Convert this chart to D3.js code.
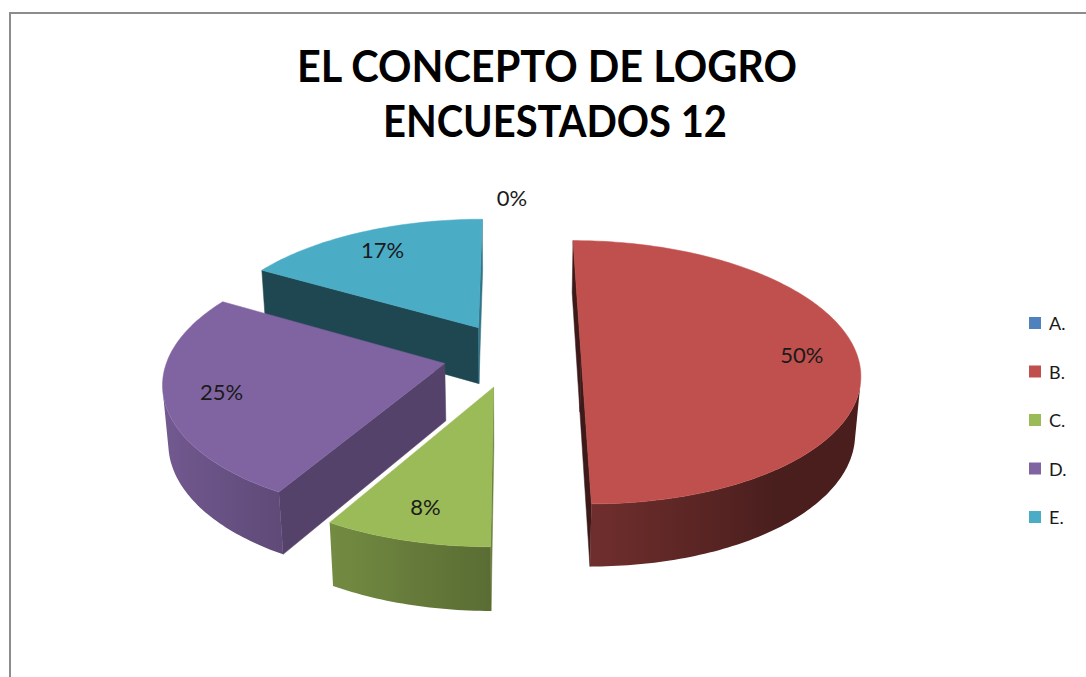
<!DOCTYPE html>
<html>
<head>
<meta charset="utf-8">
<script src="https://cdn.jsdelivr.net/npm/d3@7"></script>
<style>
  body { margin: 0; background: #fff; }
  svg { display: block; font-family: Lato, "Open Sans", sans-serif; }
</style>
</head>
<body>
<div id="chart"></div>
<script>
(function() {
  var categories = ['A.', 'B.', 'C.', 'D.', 'E.']
  var counts = [0, 6, 1, 3, 2]
  var colors = ['#4F81BD', '#C0504D', '#9BBB59', '#8064A2', '#4BACC6']
  var titleLines = ['EL CONCEPTO DE LOGRO', 'ENCUESTADOS 12']

  var width = 1086, height = 677
  var total = d3.sum(counts)
  var pct = d3.format('.0%')

  var svg = d3.select('#chart')
    .append('svg')
    .attr('width', width)
    .attr('height', height)
  var defs = svg.append('defs')

  // chart frame, only top and left edges fall inside the window
  svg.append('rect')
    .attr('x', 10).attr('y', 13)
    .attr('width', 1100).attr('height', 700)
    .attr('fill', '#fff')
    .attr('stroke', '#8c8c8c')
    .attr('stroke-width', 2)

  // title
  svg.append('g').selectAll('text')
    .data(titleLines)
    .join('text')
    .attr('x', (d, i) => i === 0 ? 547 : 555)
    .attr('y', (d, i) => 82 + i * 55)
    .attr('text-anchor', 'middle')
    .attr('font-size', 43)
    .attr('font-weight', 'bold')
    .attr('fill', '#000')
    .attr('textLength', (d, i) => i === 0 ? 500 : 344)
    .attr('lengthAdjust', 'spacingAndGlyphs')
    .text(d => d)

  // simple perspective camera looking down on the pie (radius 1, y up, z toward viewer)
  var tilt = Math.asin(0.48)
  var sn = Math.sin(tilt), cs = Math.cos(tilt)
  var cam = { cx: 512, cy: 412, fx: 1850, fy: 1910, dist: 6.81 }
  var thick = 0.228
  var explode = 0.25
  var camPos = [0, cam.dist * sn, cam.dist * cs]

  function project(x, y, z) {
    var depth = cam.dist - y * sn - z * cs
    return [cam.cx + cam.fx * x / depth, cam.cy - cam.fy * (y * cs - z * sn) / depth]
  }
  function facing(n, p) {
    return n[0] * (camPos[0] - p[0]) + n[1] * (camPos[1] - p[1]) + n[2] * (camPos[2] - p[2]) > 0
  }
  function shade(color, f) {
    var c = d3.rgb(color)
    return d3.rgb(c.r * f, c.g * f, c.b * f).formatHex()
  }

  var pie = d3.pie().sort(null).value(d => d)
  var arcs = pie(counts).map((a, i) => {
    var mid = (a.startAngle + a.endAngle) / 2
    return Object.assign(a, {
      i: i,
      mid: mid,
      ox: explode * Math.sin(mid),
      oz: -explode * Math.cos(mid)
    })
  })

  function pt(a, r, ang, y) {
    return [a.ox + r * Math.sin(ang), y, a.oz - r * Math.cos(ang)]
  }
  function proj(p) { return project(p[0], p[1], p[2]) }
  function toPath(pts3) {
    return 'M' + pts3.map(p => proj(p).join(',')).join('L') + 'Z'
  }

  // far slices first
  var drawn = arcs.filter(a => a.value > 0)
    .sort((a, b) => {
      var za = a.oz - 0.5 * Math.cos(a.mid), zb = b.oz - 0.5 * Math.cos(b.mid)
      return za - zb
    })

  var pieG = svg.append('g')

  drawn.forEach(a => {
    var g = pieG.append('g').attr('class', 'slice')
    var col = colors[a.i]
    var faces = []
    var s0 = a.startAngle, s1 = a.endAngle
    var steps = Math.ceil((s1 - s0) / (Math.PI / 180))

    // radial walls
    var walls = [
      { ang: s0, n: [-Math.cos(s0), 0, -Math.sin(s0)], f: 0.5 + 0.18 * (-Math.cos(s0)) },
      { ang: s1, n: [Math.cos(s1), 0, Math.sin(s1)], f: 0.5 + 0.18 * Math.cos(s1) }
    ]
    walls.forEach(w => {
      var p = pt(a, 0.5, w.ang, thick / 2)
      if (!facing(w.n, p)) return
      faces.push({
        d: toPath([pt(a, 0, 0, thick), pt(a, 1, w.ang, thick), pt(a, 1, w.ang, 0), pt(a, 0, 0, 0)]),
        fill: shade(col, w.f)
      })
    })

    // outer curved side: the visible run of angles as one shape with a horizontal gradient
    var vis = []
    for (var k = 0; k <= steps; k++) {
      var t = s0 + (s1 - s0) * k / steps
      var n = [Math.sin(t), 0, -Math.cos(t)]
      if (facing(n, pt(a, 1, t, thick / 2))) vis.push(t)
    }
    if (vis.length > 1) {
      var upper = vis.map(t => pt(a, 1, t, thick))
      var lower = vis.slice().reverse().map(t => pt(a, 1, t, 0))
      var xs = vis.map(t => proj(pt(a, 1, t, thick))[0])
      var x0 = d3.min(xs), x1 = d3.max(xs)
      var gid = 'side-' + a.i
      defs.append('linearGradient')
        .attr('id', gid)
        .attr('gradientUnits', 'userSpaceOnUse')
        .attr('x1', x0).attr('x2', x1).attr('y1', 0).attr('y2', 0)
        .selectAll('stop')
        .data(vis.map((t, j) => ({ t: t, x: xs[j] })).sort((p, q) => p.x - q.x))
        .join('stop')
        .attr('offset', d => x1 > x0 ? (d.x - x0) / (x1 - x0) : 0)
        .attr('stop-color', d => shade(col, Math.max(0.38, Math.min(1, 0.58 - 0.33 * Math.sin(d.t)))))
      faces.push({ d: toPath(upper.concat(lower)), fill: 'url(#' + gid + ')', stroke: 'none' })
    }

    // top face
    var top = [pt(a, 0, 0, thick)]
    for (var j = 0; j <= steps; j++) {
      top.push(pt(a, 1, s0 + (s1 - s0) * j / steps, thick))
    }
    faces.push({ d: toPath(top), fill: col })

    g.selectAll('path')
      .data(faces)
      .join('path')
      .attr('d', d => d.d)
      .attr('fill', d => d.fill)
      .attr('stroke', d => d.stroke || d.fill)
      .attr('stroke-width', 0.5)
      .attr('stroke-linejoin', 'round')
  })

  // percentage labels
  svg.append('g').selectAll('text')
    .data(arcs)
    .join('text')
    .attr('transform', a => {
      var r = a.value > 0 ? 0.8 : 1.2
      return 'translate(' + proj(pt(a, r, a.mid, thick)) + ')'
    })
    .attr('text-anchor', 'middle')
    .attr('dominant-baseline', 'central')
    .attr('font-size', 22)
    .attr('fill', '#1a1a1a')
    .text(a => pct(a.value / total))

  // legend
  var legend = svg.append('g').selectAll('g')
    .data(categories)
    .join('g')
    .attr('transform', (d, i) => 'translate(1029,' + (323 + i * 48.5) + ')')

  legend.append('rect')
    .attr('x', 0).attr('y', -6)
    .attr('width', 12).attr('height', 12)
    .attr('fill', (d, i) => colors[i])

  legend.append('text')
    .attr('x', 20)
    .attr('dominant-baseline', 'central')
    .attr('font-size', 18)
    .attr('fill', '#1a1a1a')
    .text(d => d)
})()
</script>
</body>
</html>
